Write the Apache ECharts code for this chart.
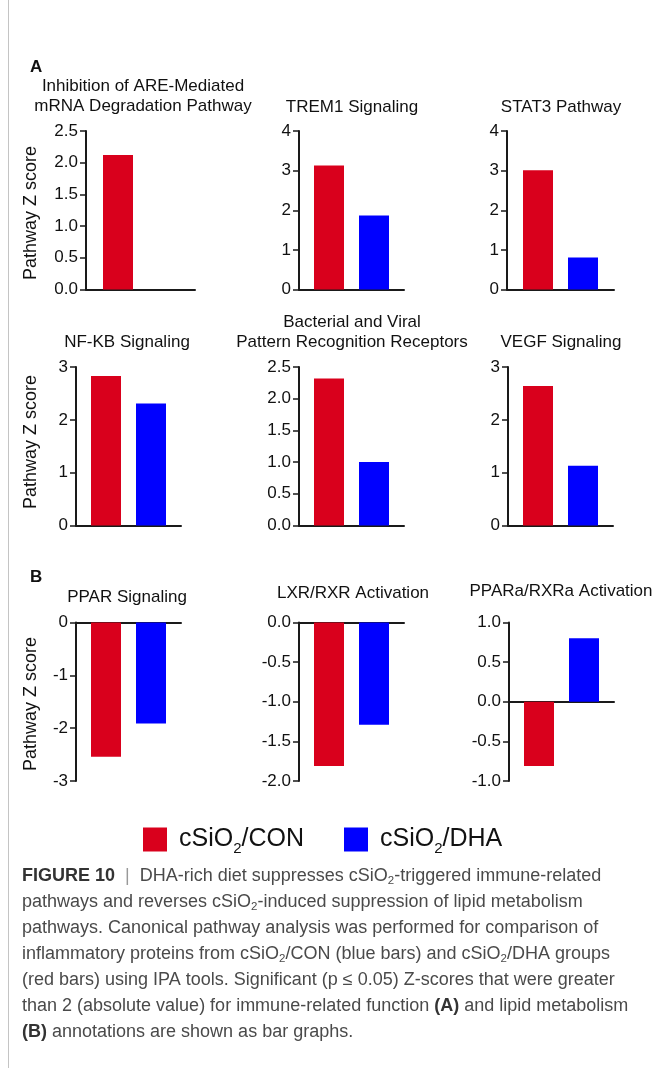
<!DOCTYPE html>
<html>
<head>
<meta charset="utf-8">
<title>Figure 10</title>
<script src="https://cdn.jsdelivr.net/npm/echarts@6/dist/echarts.min.js"></script>
<style>
  html, body { margin: 0; padding: 0; background: #fff; }
  #chart { width: 655px; height: 1068px; }
</style>
</head>
<body>
<div id="chart"></div>
<script>
  // one entry per panel: A = 0..5, B = 6..8
  var pathways = [
    'Inhibition of ARE-Mediated\nmRNA Degradation Pathway',
    'TREM1 Signaling',
    'STAT3 Pathway',
    'NF-KB Signaling',
    'Bacterial and Viral\nPattern Recognition Receptors',
    'VEGF Signaling',
    'PPAR Signaling',
    'LXR/RXR Activation',
    'PPARa/RXRa Activation'
  ];
  var conValues = [2.12, 3.13, 3.01, 2.83, 2.32, 2.64, -2.54, -1.81, -0.81];
  var dhaValues = [null, 1.87, 0.81, 2.31, 1.00, 1.13, -1.91, -1.29, 0.80];

  // y axis ranges and tick labels
  var yMin = [0, 0, 0, 0, 0, 0, -3, -2, -1];
  var yMax = [2.5, 4, 4, 3, 2.5, 3, 0, 0, 1];
  var yStep = [0.5, 1, 1, 1, 0.5, 1, 1, 0.5, 0.5];
  var yDecimals = [1, 0, 0, 0, 1, 0, 0, 1, 1];

  var seriesNames = ['cSiO2/CON', 'cSiO2/DHA'];
  var red = '#d9001c', blue = '#0000ff';
  var axisColor = '#1a1a1a';
  var font = '"Liberation Sans", Arial, Helvetica, sans-serif';

  // panel layout
  var gridLeft = [86, 299, 507, 76, 299, 508, 76, 299, 509];
  var gridWidth = [109, 105, 107, 105, 105, 105, 105, 105, 105];
  var rowTop = [131, 367, 622.5];
  var gridHeight = 158.5;
  var titleX = [143, 352, 561, 127, 352, 561, 127, 353, 561];
  var titleY = [106, 107, 107, 342, 342, 342, 597, 593, 591];

  var grids = [], xAxes = [], yAxes = [], series = [];
  for (var i = 0; i < pathways.length; i++) {
    grids.push({
      left: gridLeft[i], top: rowTop[Math.floor(i / 3)],
      width: gridWidth[i], height: gridHeight, containLabel: false
    });
    xAxes.push({
      gridIndex: i, type: 'category', data: [pathways[i]],
      axisLine: { onZero: true, lineStyle: { color: axisColor, width: 2 } },
      axisTick: { show: false },
      axisLabel: { show: false }
    });
    (function (dec) {
      yAxes.push({
        gridIndex: i, type: 'value',
        min: yMin[i], max: yMax[i], interval: yStep[i],
        splitLine: { show: false },
        axisLine: { show: true, lineStyle: { color: axisColor, width: 2 } },
        axisTick: { show: true, length: 6, lineStyle: { color: axisColor, width: 1.5 } },
        axisLabel: {
          margin: 8, fontSize: 17, color: '#111', fontFamily: font,
          formatter: function (v) { return v.toFixed(dec); }
        }
      });
    })(yDecimals[i]);
    series.push({
      name: seriesNames[0], type: 'bar', xAxisIndex: i, yAxisIndex: i,
      data: [conValues[i]], barWidth: 30, barGap: '50%',
      itemStyle: { color: red }
    });
    series.push({
      name: seriesNames[1], type: 'bar', xAxisIndex: i, yAxisIndex: i,
      data: [dhaValues[i]], barWidth: 30, barGap: '50%',
      itemStyle: { color: blue }
    });
  }

  function txt(x, y, text, opts) {
    var s = {
      text: text, x: 0, y: 0,
      font: (opts.weight || 'normal') + ' ' + (opts.size || 17) + 'px ' + font,
      fill: opts.color || '#111',
      align: opts.align || 'left', textAlign: opts.align || 'left',
      verticalAlign: opts.valign || 'middle', textVerticalAlign: opts.valign || 'middle',
      lineHeight: opts.lineHeight || 20
    };
    if (opts.rich) s.rich = opts.rich;
    return { type: 'text', x: x, y: y, rotation: opts.rotation || 0, style: s, silent: true };
  }

  var graphics = [];
  graphics.push({
    type: 'line', shape: { x1: 8.5, y1: 0, x2: 8.5, y2: 1068 },
    style: { stroke: '#c4c4c4', lineWidth: 1 }, silent: true
  });
  graphics.push(txt(30, 67, 'A', { weight: 'bold', size: 17 }));
  graphics.push(txt(30, 577, 'B', { weight: 'bold', size: 17 }));
  for (var t = 0; t < pathways.length; t++) {
    graphics.push(txt(titleX[t], titleY[t] + 10, pathways[t],
      { size: 17, align: 'center', valign: 'bottom', lineHeight: 20 }));
  }
  var yNameY = [213, 442, 704];
  for (var r = 0; r < 3; r++) {
    graphics.push(txt(31, yNameY[r], 'Pathway Z score',
      { size: 18, align: 'center', rotation: Math.PI / 2 }));
  }

  // figure caption
  var capRich = {
    b: { fontWeight: 'bold', fontSize: 18, fontFamily: font, fill: '#333' },
    g: { fontSize: 18, fontFamily: font, fill: '#999' },
    s: { fontSize: 11.5, fontFamily: font, fill: '#4a4a4a', padding: [9, 0, 0, 0] }
  };
  var captionLines = [
    '{b|FIGURE 10}  {g||}  DHA-rich diet suppresses cSiO{s|2}-triggered immune-related',
    'pathways and reverses cSiO{s|2}-induced suppression of lipid metabolism',
    'pathways. Canonical pathway analysis was performed for comparison of',
    'inflammatory proteins from cSiO{s|2}/CON (blue bars) and cSiO{s|2}/DHA groups',
    '(red bars) using IPA tools. Significant (p \u2264 0.05) Z-scores that were greater',
    'than 2 (absolute value) for immune-related function {b|(A)} and lipid metabolism',
    '{b|(B)} annotations are shown as bar graphs.'
  ];
  for (var c = 0; c < captionLines.length; c++) {
    graphics.push(txt(22, 876 + c * 26, captionLines[c],
      { size: 18, color: '#4a4a4a', rich: capRich, lineHeight: 22 }));
  }

  var chart = echarts.init(document.getElementById('chart'));
  chart.setOption({
    animation: false,
    backgroundColor: '#fff',
    textStyle: { fontFamily: font },
    grid: grids,
    xAxis: xAxes,
    yAxis: yAxes,
    series: series,
    legend: {
      data: seriesNames,
      left: 138, top: 822,
      icon: 'rect', itemWidth: 24, itemHeight: 24, itemGap: 40,
      selectedMode: false,
      formatter: function (name) {
        var parts = name.split('2');
        return '{t|' + parts[0] + '}{s|2}{t|' + parts[1] + '}';
      },
      textStyle: {
        padding: [0, 0, 0, 7],
        rich: {
          t: { fontSize: 25, color: '#111', fontFamily: font },
          s: { fontSize: 15, color: '#111', fontFamily: font, padding: [18, 0, 0, 0] }
        }
      }
    },
    graphic: graphics
  });
</script>
</body>
</html>
